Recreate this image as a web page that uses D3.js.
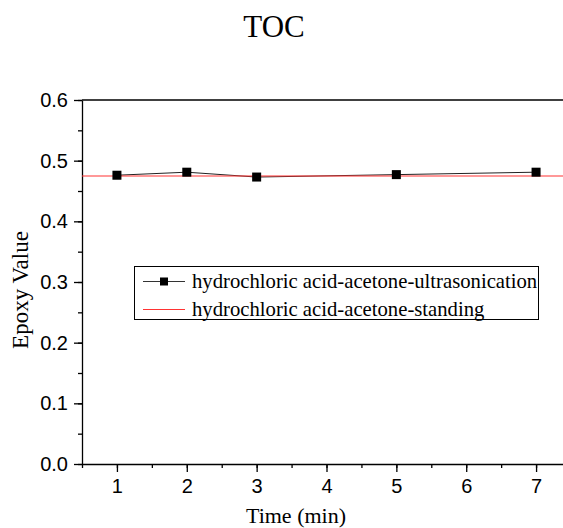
<!DOCTYPE html>
<html>
<head>
<meta charset="utf-8">
<script src="https://cdn.jsdelivr.net/npm/d3@7"></script>
<style>
	body { margin: 0; background: #fff; }
	svg { display: block; }
</style>
</head>
<body>
<svg id="viz"></svg>
<script>
// data
var times = [ 1, 2, 3, 5, 7 ];
var ultrasonication = [ 0.476, 0.481, 0.473, 0.477, 0.481 ];
var standingX = [ 0.5, 7.5 ];
var standing = [ 0.4747, 0.4747 ];
var xTicks = [ 1, 2, 3, 4, 5, 6, 7 ];
var yTicks = [ 0, 0.1, 0.2, 0.3, 0.4, 0.5, 0.6 ];

var svg = d3.select( '#viz' )
	.attr( 'width', 563 )
	.attr( 'height', 528 );

var xScale = d3.scaleLinear().domain( [ 0.5, 7.5 ] ).range( [ 82, 571 ] );
var yScale = d3.scaleLinear().domain( [ 0, 0.6 ] ).range( [ 464, 100 ] );

// title
svg.append( 'text' )
	.attr( 'x', 274 )
	.attr( 'y', 37 )
	.attr( 'text-anchor', 'middle' )
	.style( 'font-family', '"Liberation Serif", "Times New Roman", serif' )
	.style( 'font-size', '31px' )
	.text( 'TOC' );

// frame top line
svg.append( 'line' )
	.attr( 'x1', 82 ).attr( 'x2', 571 )
	.attr( 'y1', 100 ).attr( 'y2', 100 )
	.attr( 'stroke', '#000' )
	.attr( 'stroke-width', 1.3 );

// minor ticks
svg.append( 'g' )
	.attr( 'transform', 'translate(0,464)' )
	.call( d3.axisBottom( xScale ).tickValues( d3.range( 0.5, 7.6, 0.5 ) ).tickSize( 4 ).tickFormat( '' ) )
	.call( function ( g ) { g.select( '.domain' ).remove(); } );
svg.append( 'g' )
	.attr( 'transform', 'translate(82,0)' )
	.call( d3.axisLeft( yScale ).tickValues( d3.range( 0, 0.61, 0.05 ) ).tickSize( 4 ).tickFormat( '' ) )
	.call( function ( g ) { g.select( '.domain' ).remove(); } );

// major axes
svg.append( 'g' )
	.attr( 'transform', 'translate(0,464)' )
	.call( d3.axisBottom( xScale ).tickValues( xTicks ).tickSize( 8 ).tickPadding( 7 ).tickSizeOuter( 0 ).tickFormat( d3.format( 'd' ) ) );
svg.append( 'g' )
	.attr( 'transform', 'translate(82,0)' )
	.call( d3.axisLeft( yScale ).tickValues( yTicks ).tickSize( 8 ).tickPadding( 6 ).tickSizeOuter( 0 ).tickFormat( d3.format( '.1f' ) ) );

svg.selectAll( '.tick text' )
	.style( 'font-family', '"Liberation Sans", Arial, sans-serif' )
	.style( 'font-size', '20px' )
	.attr( 'fill', '#000' );
svg.selectAll( '.domain, .tick line' )
	.attr( 'stroke', '#000' )
	.attr( 'stroke-width', 1.3 );

// axis titles
svg.append( 'text' )
	.attr( 'x', 296 )
	.attr( 'y', 523 )
	.attr( 'text-anchor', 'middle' )
	.style( 'font-family', '"Liberation Serif", "Times New Roman", serif' )
	.style( 'font-size', '22px' )
	.text( 'Time (min)' );
svg.append( 'text' )
	.attr( 'transform', 'translate(28,290) rotate(-90)' )
	.attr( 'text-anchor', 'middle' )
	.style( 'font-family', '"Liberation Serif", "Times New Roman", serif' )
	.style( 'font-size', '23px' )
	.text( 'Epoxy Value' );

// series
var line = d3.line()
	.x( function ( d ) { return xScale( d[0] ); } )
	.y( function ( d ) { return yScale( d[1] ); } );

svg.append( 'path' )
	.datum( d3.zip( times, ultrasonication ) )
	.attr( 'd', line )
	.attr( 'fill', 'none' )
	.attr( 'stroke', '#222' )
	.attr( 'stroke-width', 1 );

svg.append( 'path' )
	.datum( d3.zip( standingX, standing ) )
	.attr( 'd', line )
	.attr( 'fill', 'none' )
	.attr( 'stroke', '#f33' )
	.attr( 'stroke-width', 1.2 );

svg.selectAll( 'rect.marker' )
	.data( d3.zip( times, ultrasonication ) )
	.enter()
	.append( 'rect' )
	.classed( 'marker', true )
	.attr( 'x', function ( d ) { return xScale( d[0] ) - 4.5; } )
	.attr( 'y', function ( d ) { return yScale( d[1] ) - 4.5; } )
	.attr( 'width', 9 )
	.attr( 'height', 9 )
	.attr( 'fill', '#000' );

// legend
var legend = svg.append( 'g' );
legend.append( 'rect' )
	.attr( 'x', 134.5 ).attr( 'y', 266.5 )
	.attr( 'width', 404 ).attr( 'height', 53 )
	.attr( 'fill', '#fff' )
	.attr( 'stroke', '#000' )
	.attr( 'stroke-width', 1 );

var legendItems = [
	{ name: 'hydrochloric acid-acetone-ultrasonication', color: '#333', marker: true },
	{ name: 'hydrochloric acid-acetone-standing', color: '#f33', marker: false }
];

legendItems.forEach( function ( d, i ) {
	var cy = 281.5 + i * 28;
	legend.append( 'line' )
		.attr( 'x1', 143 ).attr( 'x2', 185 )
		.attr( 'y1', cy ).attr( 'y2', cy )
		.attr( 'stroke', d.color )
		.attr( 'stroke-width', 1.2 );
	if ( d.marker ) {
		legend.append( 'rect' )
			.attr( 'x', 160 ).attr( 'y', cy - 4 )
			.attr( 'width', 8 ).attr( 'height', 8 )
			.attr( 'fill', '#000' );
	}
	legend.append( 'text' )
		.attr( 'x', 192 )
		.attr( 'y', cy + 6 )
		.style( 'font-family', '"Liberation Serif", "Times New Roman", serif' )
		.style( 'font-size', '20.7px' )
		.text( d.name );
} );
</script>
</body>
</html>
